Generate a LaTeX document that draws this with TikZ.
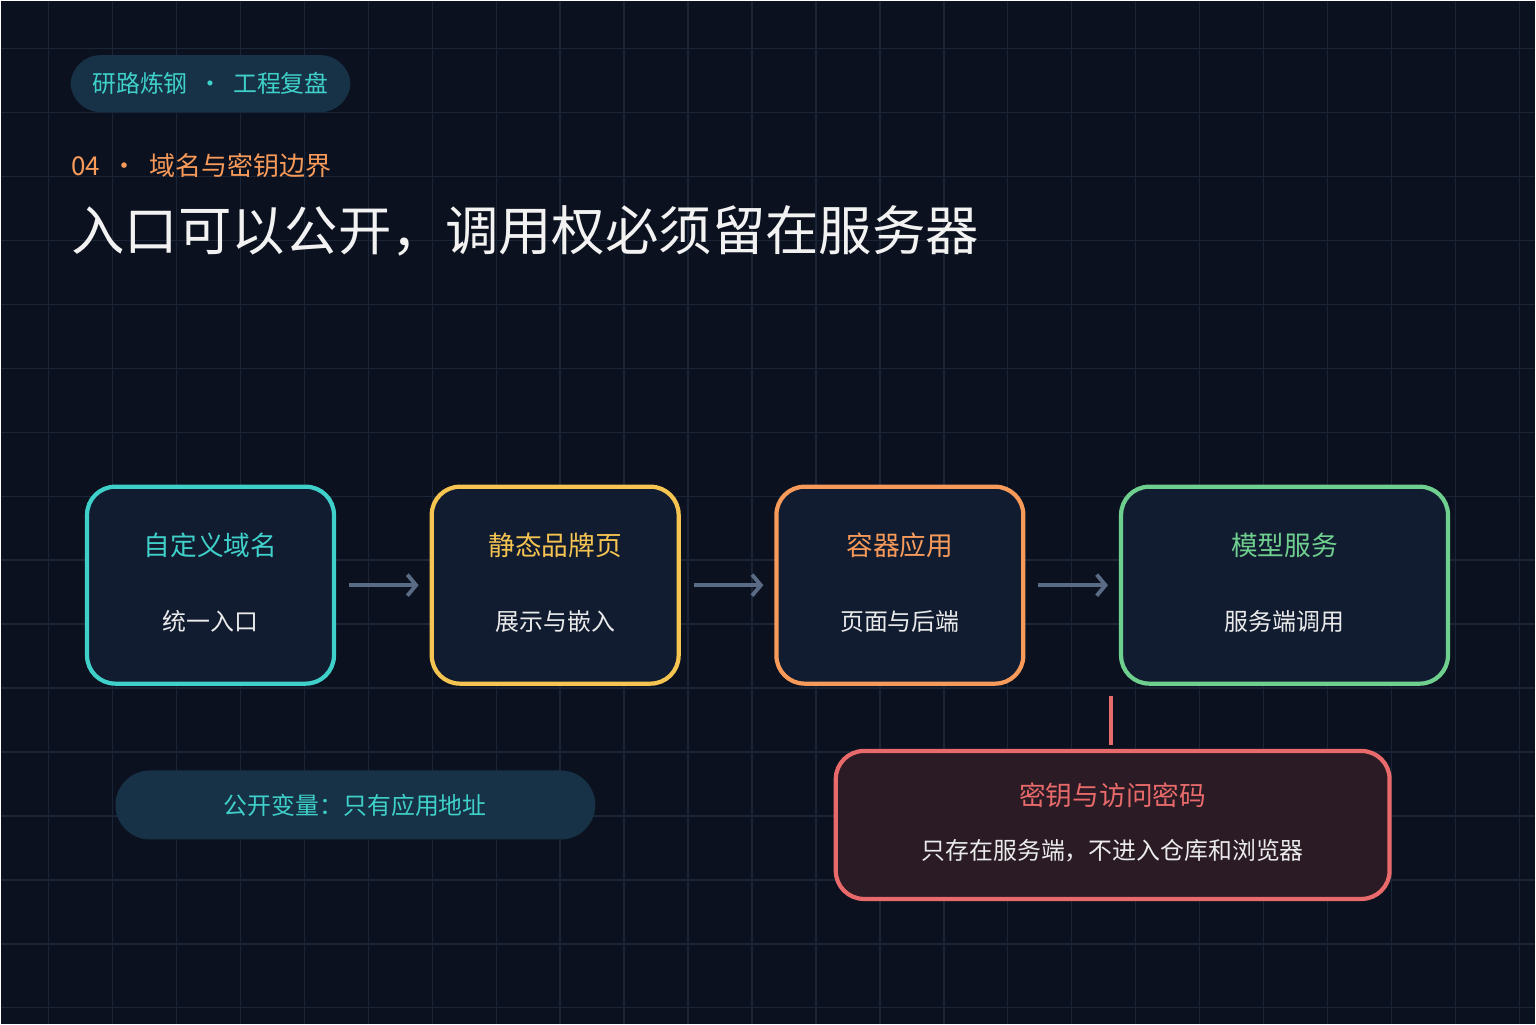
\documentclass[tikz,border=0pt]{standalone}
\usepackage{fontspec}
\newfontfamily\cjk{Noto Sans CJK SC}
\usetikzlibrary{arrows.meta, positioning}
\definecolor{bgdark}{HTML}{0B111E}
\definecolor{gridline}{HTML}{1A2538}
\definecolor{boxfill}{HTML}{111C30}
\definecolor{cyanc}{HTML}{3FD0C9}
\definecolor{yellowc}{HTML}{F5C451}
\definecolor{orangec}{HTML}{F79A5A}
\definecolor{greenc}{HTML}{6FCF8F}
\definecolor{redc}{HTML}{E86A6A}
\definecolor{redfill}{HTML}{2A1B25}
\definecolor{pillfill}{HTML}{173247}
\definecolor{arrowc}{HTML}{5A6B85}

\begin{document}
\begin{tikzpicture}[
        x=0.01cm, y=-0.01cm,
        font=\cjk,
        % --- stiluri ---
        stage/.style={
                draw=#1,
                line width=1.2pt,
                fill=boxfill,
                rounded corners=8pt,
                minimum height=1.97cm,
                minimum width=2.47cm
            },
        head/.style={
                font=\cjk\fontsize{7.6}{9}\selectfont,
                text=#1
            },
        sub/.style={
                font=\cjk\fontsize{6.8}{8}\selectfont,
                text=white!92!black
            },
        pill/.style={
                fill=pillfill,
                rounded corners=0.3cm,
                text=cyanc,
                font=\cjk\fontsize{6.8}{8}\selectfont
            },
        flow/.style={
                -{Straight Barb[length=2.5pt,width=6pt]},
                line width=1.1pt,
                color=arrowc
            }
    ]

    % 1. Fundal si grila
    \fill[bgdark] (0,0) rectangle (1536,1024);
    \foreach \i in {48,112,...,1520}
    \draw[gridline, line width=0.4pt] (\i,0) -- (\i,1024);
    \foreach \j in {48,112,...,1008}
    \draw[gridline, line width=0.4pt] (0,\j) -- (1536,\j);

    % 2. Antet
    \node[pill, minimum width=2.8cm, minimum height=0.57cm] (tag) at (210,83) {研路炼钢\ \ ·\ \ 工程复盘};
    \node[anchor=west, text=orangec, font=\cjk\fontsize{7.4}{9}\selectfont, inner sep=0pt] (section) at (70,165) {04\ \ ·\ \ 域名与密钥边界};
    \node[anchor=west, text=white!95!black, font=\cjk\fontsize{15.2}{18}\selectfont, inner sep=0pt] (title) at (70,230) {入口可以公开，调用权必须留在服务器};

    % 3. Etapele
    \node[stage=cyanc] (domain) at (210,585) {};
    \node[stage=yellowc] (brand) at (555,585) {};
    \node[stage=orangec] (container) at (900,585) {};
    \node[stage=greenc, minimum width=3.27cm] (model) at (1285,585) {};

    \node[head=cyanc] at (210,545) {自定义域名};
    \node[sub] at (210,621) {统一入口};
    \node[head=yellowc] at (555,545) {静态品牌页};
    \node[sub] at (555,621) {展示与嵌入};
    \node[head=orangec] at (900,545) {容器应用};
    \node[sub] at (900,621) {页面与后端};
    \node[head=greenc] at (1285,545) {模型服务};
    \node[sub] at (1285,621) {服务端调用};

    % 4. Sagetile
    \draw[flow] ([xshift=0.13cm]domain.east) -- ([xshift=-0.11cm]brand.west);
    \draw[flow] ([xshift=0.13cm]brand.east) -- ([xshift=-0.11cm]container.west);
    \draw[flow] ([xshift=0.13cm]container.east) -- ([xshift=-0.11cm]model.west);

    % 5. Note
    \node[pill, minimum width=4.8cm, minimum height=0.69cm, rounded corners=0.345cm] (public) at (355,805) {公开变量：只有应用地址};

    \node[draw=redc, line width=1.2pt, fill=redfill, rounded corners=8pt,
        minimum width=5.54cm, minimum height=1.48cm] (secret) at (1113,825) {};
    \node[text=redc, font=\cjk\fontsize{7.6}{9}\selectfont] at (1113,795) {密钥与访问密码};
    \node[sub] at (1113,851) {只存在服务端，不进入仓库和浏览器};
    \coordinate (tick) at (1111,696);
    \draw[redc, line width=1.1pt] (tick) -- (tick |- 0,745);

\end{tikzpicture}
\end{document}
